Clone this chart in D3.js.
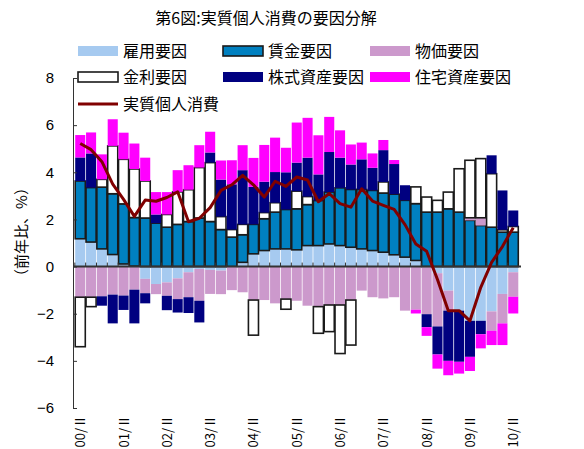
<!DOCTYPE html>
<html>
<head>
<meta charset="utf-8">
<script src="https://cdn.jsdelivr.net/npm/d3@7"></script>
<style>
  body { margin: 0; background: #fff; }
  text { font-family: "Noto Sans CJK JP", "Noto Sans", sans-serif; fill: #000; }
</style>
</head>
<body>
<svg width="584" height="449"></svg>
<script>
// 四半期（00/II ～ 10/II）
const quarters = d3.range(41).map(i => {
    const y = 2000 + Math.floor((i + 1) / 4);
    const q = ((i + 1) % 4) + 1;
    return String(y % 100).padStart(2, "0") + "/" + q;
});
const tickLabels = ["00/Ⅱ", "01/Ⅱ", "02/Ⅱ", "03/Ⅱ", "04/Ⅱ", "05/Ⅱ", "06/Ⅱ", "07/Ⅱ", "08/Ⅱ", "09/Ⅱ", "10/Ⅱ"];

// 要因（前年比寄与度、%）
const koyou = [1.18, 1.04, 0.75, 0.51, 0.11, 0.02, -0.52, -0.74, -0.67, -0.5,
    -0.24, -0.1, -0.14, -0.17, 0, 0.18, 0.54, 0.68, 0.75, 0.75,
    0.71, 0.89, 0.89, 0.96, 0.89, 0.82, 0.75, 0.68, 0.61, 0.5,
    0.4, 0.26, -0.03, -0.28, -1.02, -1.87, -2.3, -2.3, -1.9, -1.16, -0.24];
const chingin = [2.45, 2.31, 2.62, 2.58, 2.55, 2.06, 2.06, 1.84, 1.67, 1.79,
    1.91, 2.06, 1.91, 1.57, 1.25, 1.17, 1.25, 1.35, 1.56, 1.67,
    1.74, 1.74, 1.91, 2.2, 2.45, 2.45, 2.52, 2.55, 2.51, 2.57,
    2.41, 2.41, 2.31, 2.31, 2.45, 2.31, 1.96, 1.74, 1.67, 1.46, 1.46];
const bukka = [-1.3, -1.3, -1.26, -1.19, -1.23, -0.98, -0.61, -0.43, -0.57, -0.88,
    -1.06, -1.35, -1.02, -1.0, -1.0, -1.09, -1.42, -1.42, -1.56, -1.38,
    -1.45, -1.66, -1.7, -1.63, -1.63, -1.42, -1.02, -1.3, -1.35, -1.3,
    -1.87, -1.83, -1.99, -2.26, -0.85, 0, 0.11, 0.33, -0.82, -1.25, -1.04];
const kinri = [-2.1, -0.4, 0.33, 2.03, 1.89, 2.06, 1.57, 0, 0.54, 1.38,
    1.35, 2.14, 2.5, 0.55, 0.32, 0.44, -1.49, 0.26, 0.4, -0.43,
    0.75, 0.34, -1.13, -1.13, -2.06, -1.91, 0, 0, 0.47, 0,
    0, 0.71, 0.64, 0.5, 0.71, 1.84, 2.44, 2.51, 2.27, 0.1, 0.24];
const kabushiki = [1.0, 1.45, -0.4, -1.22, -0.61, -1.43, -0.43, 0.37, -0.61, -0.57,
    -0.67, -0.92, 0.43, 1.57, 1.92, 2.3, 1.59, 1.31, 1.3, 1.58,
    1.21, 1.65, 1.11, 1.7, 1.28, 1.06, 1.28, 0.96, 1.35, 1.28,
    0.64, 0, -0.55, -1.19, -2.13, -2.17, -1.53, -0.57, 0.78, 1.67, 0.68];
const juutaku = [0.95, 0.89, 1.06, 1.13, 1.13, 1.08, 0.99, 0.95, 0.95, 0.92,
    1.04, 0.95, 0.88, 0.81, 1.02, 1.06, 1.23, 1.56, 1.46, 1.04,
    1.7, 1.69, 1.66, 1.49, 1.16, 0.85, 0.71, 0.61, 0.43, 0.17,
    0, -0.16, -0.37, -0.6, -0.61, -0.5, -0.6, -0.6, -0.61, -0.92, -0.71];
// 実質個人消費（前年比、%）
const shouhi = [5.22, 4.96, 4.45, 3.5, 2.85, 2.13, 2.82, 2.77, 2.93, 3.17,
    1.9, 2.05, 2.5, 3.23, 3.47, 3.87, 3.47, 2.95, 3.62, 3.4,
    3.8, 3.67, 2.75, 3.1, 2.67, 2.52, 3.3, 2.78, 2.6, 2.43,
    1.78, 0.96, 0.65, -0.55, -1.87, -1.87, -2.3, -0.88, 0.18, 0.85, 1.65];

const seriesNames = ["雇用要因", "賃金要因", "物価要因", "金利要因", "株式資産要因", "住宅資産要因"];
const seriesValues = [koyou, chingin, bukka, kinri, kabushiki, juutaku];
const colors = ["#a6caf0", "#0080c0", "#cc99cc", "#ffffff", "#000080", "#ff00ff"];
const bordered = [false, true, false, true, false, false];

const svg = d3.select("svg");

const x = d3.scaleBand().domain(quarters).range([75, 518.5]).paddingInner(0.07).paddingOuter(0.02);
const y = d3.scaleLinear().domain([-6, 8]).range([408, 78]);

// タイトル
svg.append("text")
    .attr("x", 266).attr("y", 24)
    .attr("text-anchor", "middle")
    .style("font-size", "16px")
    .text("第6図:実質個人消費の要因分解");

// 積み上げ
const table = quarters.map((q, i) => {
    const row = { q: q };
    seriesNames.forEach((n, k) => { row[n] = seriesValues[k][i]; });
    return row;
});
const stacked = d3.stack().keys(seriesNames).offset(d3.stackOffsetDiverging)(table);

const layers = svg.selectAll(".layer")
    .data(stacked)
    .enter().append("g")
    .attr("class", "layer")
    .attr("fill", (d, i) => colors[i])
    .attr("stroke", (d, i) => bordered[i] ? "#1a1a1a" : "none")
    .attr("stroke-width", 1.6);

layers.selectAll("rect")
    .data(d => d.filter(p => p[1] !== p[0]))
    .enter().append("rect")
    .attr("x", d => x(d.data.q))
    .attr("width", x.bandwidth())
    .attr("y", d => y(Math.max(d[0], d[1])))
    .attr("height", d => Math.abs(y(d[0]) - y(d[1])));

// ゼロ線
svg.append("line")
    .attr("x1", 73).attr("x2", 521)
    .attr("y1", y(0)).attr("y2", y(0))
    .attr("stroke", "#333").attr("stroke-width", 2);
svg.selectAll(".xtick")
    .data(quarters)
    .enter().append("line")
    .attr("x1", d => x(d) - x.step() * x.paddingInner() / 2)
    .attr("x2", d => x(d) - x.step() * x.paddingInner() / 2)
    .attr("y1", y(0)).attr("y2", y(0) - 4)
    .attr("stroke", "#333").attr("stroke-width", 1);

// 実質個人消費
const line = d3.line()
    .x((d, i) => x(quarters[i]) + x.bandwidth() / 2)
    .y(d => y(d));
svg.append("path")
    .datum(shouhi)
    .attr("d", line)
    .attr("fill", "none")
    .attr("stroke", "#800000")
    .attr("stroke-width", 3)
    .attr("stroke-linejoin", "round");

// Y軸
const yAxis = svg.append("g")
    .attr("transform", "translate(73,0)")
    .call(d3.axisLeft(y).tickValues(d3.range(-6, 9, 2)).tickSize(-4).tickSizeOuter(0).tickPadding(19)
        .tickFormat(d => d < 0 ? "−" + Math.abs(d) : d));
yAxis.select(".domain").attr("stroke", "#333");
yAxis.selectAll(".tick line").attr("stroke", "#333");
yAxis.selectAll("text").style("font-size", "15px").style("font-family", "'Liberation Sans', Arial, sans-serif");

svg.append("text")
    .attr("transform", "translate(27,232) rotate(-90)")
    .attr("text-anchor", "middle")
    .style("font-size", "15px")
    .text("（前年比、%）");

// X軸ラベル
svg.selectAll(".xlabel")
    .data(tickLabels)
    .enter().append("text")
    .attr("transform", (d, i) => "translate(" + (x(quarters[i * 4]) + x.bandwidth() / 2 + 5) + ",415) rotate(-90)")
    .attr("text-anchor", "end")
    .style("font-size", "13px")
    .text(d => d);

// 凡例
const legend = [
    { name: "雇用要因", col: 0, row: 0, k: 0 },
    { name: "賃金要因", col: 1, row: 0, k: 1 },
    { name: "物価要因", col: 2, row: 0, k: 2 },
    { name: "金利要因", col: 0, row: 1, k: 3 },
    { name: "株式資産要因", col: 1, row: 1, k: 4 },
    { name: "住宅資産要因", col: 2, row: 1, k: 5 }
];
const colX = [78, 223, 370];
const rowY = [51, 77, 104];
legend.forEach(l => {
    svg.append("rect")
        .attr("x", colX[l.col]).attr("y", rowY[l.row] - 5)
        .attr("width", 40).attr("height", 10)
        .attr("fill", colors[l.k])
        .attr("stroke", bordered[l.k] ? "#1a1a1a" : "none")
        .attr("stroke-width", 1.6);
    svg.append("text")
        .attr("x", colX[l.col] + 45).attr("y", rowY[l.row] + 6)
        .style("font-size", "16px")
        .text(l.name);
});
svg.append("line")
    .attr("x1", 78).attr("x2", 118)
    .attr("y1", rowY[2]).attr("y2", rowY[2])
    .attr("stroke", "#800000").attr("stroke-width", 3);
svg.append("text")
    .attr("x", 123).attr("y", rowY[2] + 6)
    .style("font-size", "16px")
    .text("実質個人消費");
</script>
</body>
</html>
